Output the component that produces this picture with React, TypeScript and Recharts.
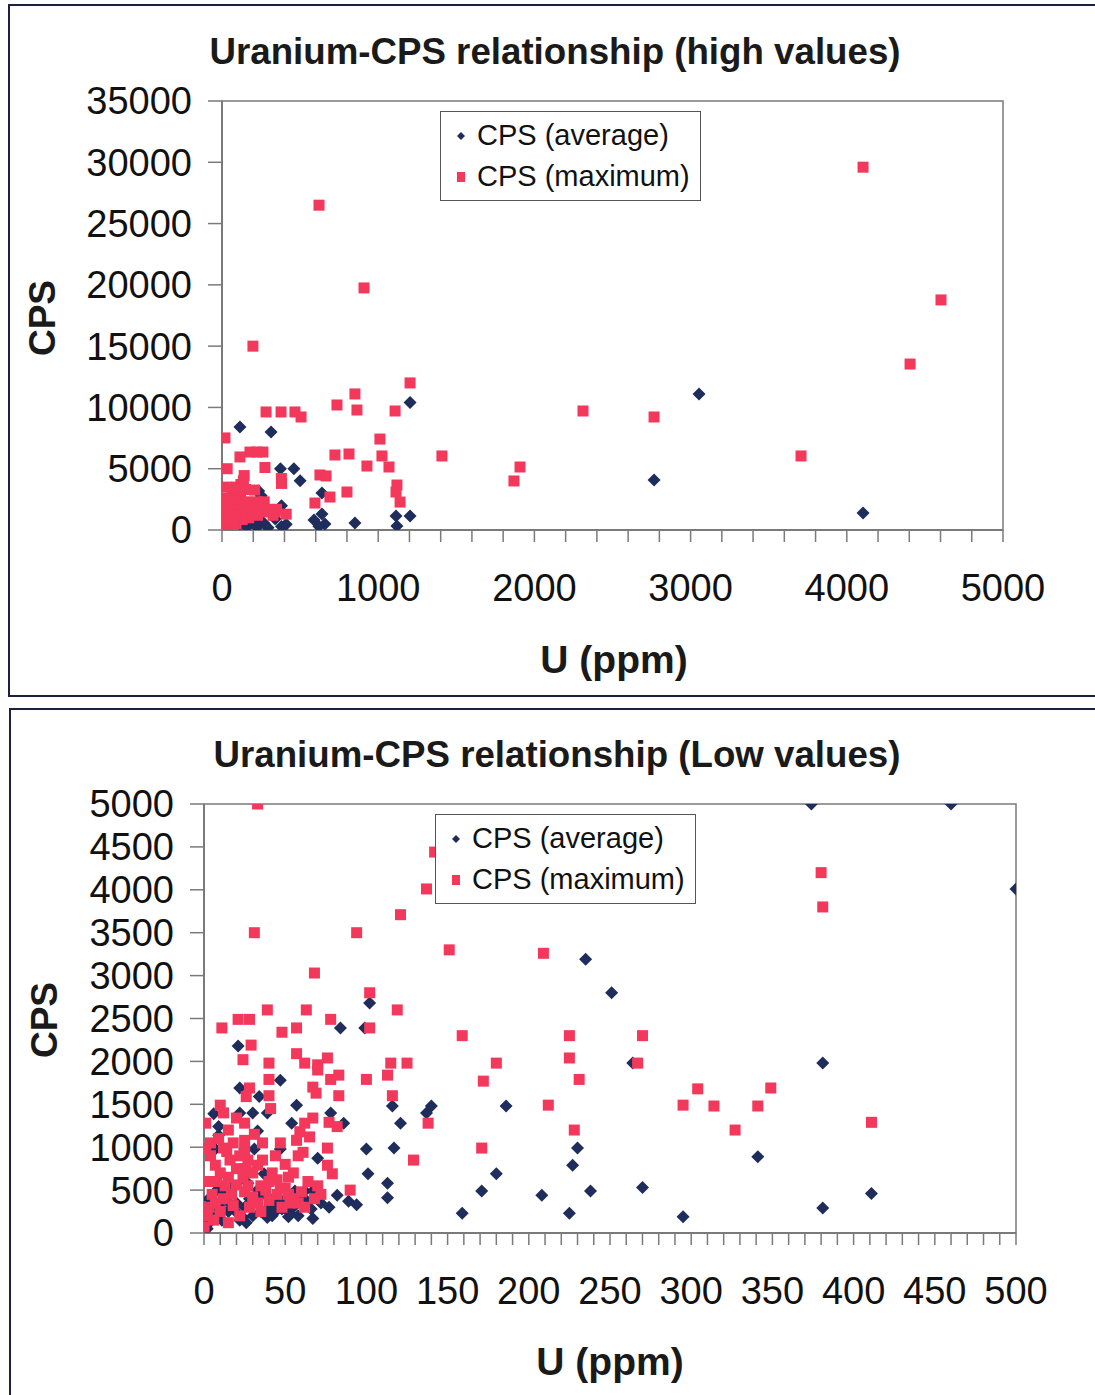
import React from 'react'
import {
  ScatterChart,
  Scatter,
  XAxis,
  YAxis,
  Legend,
  ReferenceArea,
} from 'recharts'

type Pt = [number, number]

// low-value readings (U ppm, CPS) - used for the low chart and the cluster of the high chart
const lowAverage: Pt[] = [
  [102, 2680], [84, 2390], [99, 2390], [21, 2180], [47, 1780], [22, 1690], [34, 1590], [57, 1490],
  [6, 1390], [22, 1400], [30, 1400], [39, 1400], [78, 1400], [54, 1280], [86, 1280], [9, 1240],
  [9, 1140], [33, 1190], [7, 980], [25, 980], [31, 980], [47, 980], [70, 870], [100, 980],
  [101, 690], [37, 690], [27, 580], [56, 490], [62, 490], [67, 490], [59, 380], [63, 380],
  [82, 440], [89, 370], [94, 330], [113, 580], [113, 410], [67, 170], [52, 190], [235, 3190],
  [251, 2800], [264, 1980], [116, 1480], [140, 1480], [137, 1400], [186, 1480], [121, 1280],
  [117, 990], [230, 990], [227, 790], [180, 690], [171, 490], [208, 440], [238, 490], [270, 530],
  [159, 230], [225, 230], [295, 190], [374, 5000], [460, 5000], [500, 4010], [381, 1980],
  [341, 890], [411, 460], [381, 290],
  [2, 50], [5, 200], [10, 300], [15, 250], [20, 350], [25, 300], [30, 200], [35, 250], [40, 300],
  [45, 350], [12, 450], [8, 500], [18, 550], [28, 400], [38, 450], [42, 200], [48, 280], [3, 400],
  [22, 150], [33, 500], [50, 400], [55, 300],
  [6, 320], [14, 380], [19, 260], [24, 180], [29, 360], [34, 420], [39, 180], [44, 250], [53, 230],
  [58, 200], [61, 320], [66, 280], [72, 350], [77, 300], [4, 130], [11, 150], [26, 120],
]

const lowMaximum: Pt[] = [
  [33, 5000], [142, 4440], [137, 4010], [121, 3710], [31, 3500], [94, 3500], [151, 3300],
  [209, 3260], [68, 3030], [380, 4200], [381, 3800], [39, 2600], [63, 2600], [119, 2600],
  [102, 2800], [102, 2390], [11, 2390], [21, 2490], [28, 2490], [78, 2490], [48, 2340], [57, 2390],
  [159, 2300], [225, 2300], [270, 2300], [29, 2190], [24, 2020], [40, 1980], [57, 2090], [62, 1980],
  [70, 1960], [76, 2040], [70, 1900], [83, 1840], [78, 1790], [40, 1790], [100, 1790], [113, 1840],
  [115, 1980], [125, 1980], [180, 1980], [225, 2040], [267, 1980], [172, 1770], [231, 1790],
  [28, 1690], [26, 1590], [40, 1600], [67, 1700], [69, 1630], [83, 1600], [116, 1600], [304, 1680],
  [349, 1690], [212, 1490], [295, 1490], [314, 1480], [341, 1480], [327, 1200], [228, 1200],
  [411, 1290], [138, 1280], [171, 990], [129, 850], [90, 500], [10, 1490], [12, 1400], [41, 1450],
  [20, 1340], [67, 1340], [62, 1280], [77, 1290], [82, 1240], [1, 1280], [15, 1200], [25, 1280],
  [25, 1080], [25, 970], [59, 1180], [57, 1080], [65, 1120], [47, 1050], [1, 990], [12, 990],
  [61, 940], [76, 990], [27, 850], [7, 790], [33, 790], [76, 790], [79, 690], [0, 70],
  [8, 600], [15, 650], [20, 560], [5, 450], [12, 400], [25, 480], [30, 420], [35, 550], [40, 380],
  [45, 450], [50, 520], [55, 400], [3, 300], [10, 250], [18, 320], [22, 200], [28, 300], [6, 150],
  [2, 200], [15, 120], [35, 250], [48, 300], [53, 350], [40, 600], [30, 700], [20, 750], [10, 700],
  [52, 650], [60, 480], [45, 620],
  [4, 900], [9, 1100], [14, 950], [18, 1050], [22, 900], [31, 1150], [36, 1050], [44, 900],
  [50, 800], [55, 700], [58, 900], [64, 600], [70, 550], [3, 600], [7, 350], [13, 550], [17, 450],
  [24, 650], [27, 550], [33, 350], [38, 500], [42, 700], [47, 520], [52, 450], [58, 350], [62, 300],
  [68, 400], [72, 450], [16, 850], [26, 750], [36, 850], [4, 1050],
]

// readings only visible on the high-value chart
const highAverage: Pt[] = [
  [3054, 11100], [1204, 10400], [115, 8400], [314, 8000], [2766, 4080], [4104, 1390],
  [640, 3020], [1114, 1140], [1204, 1140], [1120, 330], [851, 570], [589, 820], [640, 1310],
  [659, 490], [620, 300],
]

const highMaximum: Pt[] = [
  [621, 26500], [909, 19750], [198, 15000], [4104, 29600], [4603, 18770], [4405, 13540],
  [1204, 12000], [851, 11100], [864, 9790], [736, 10200], [1108, 9710], [282, 9630], [378, 9630],
  [467, 9630], [506, 9220], [2311, 9710], [2766, 9220], [19, 7510], [1011, 7420], [1408, 6040],
  [723, 6120], [813, 6200], [3707, 6040], [1024, 6040], [1069, 5140], [928, 5220], [1908, 5140],
  [1869, 4000], [627, 4490], [666, 4410], [800, 3100], [691, 2690], [595, 2200], [1120, 3670],
  [1114, 3100], [1140, 2280], [115, 5960], [179, 6360], [224, 6360], [262, 6360], [275, 5100],
]

const highXLabels = [0, 1000, 2000, 3000, 4000, 5000]
const highYTicks = [0, 5000, 10000, 15000, 20000, 25000, 30000, 35000]
const lowXLabels = [0, 50, 100, 150, 200, 250, 300, 350, 400, 450, 500]
const lowYTicks = [0, 500, 1000, 1500, 2000, 2500, 3000, 3500, 4000, 4500, 5000]

const seriesNames = ['CPS (average)', 'CPS (maximum)']

const BLUE = '#1f2d5c'
const RED = '#f3385c'
const AXIS = '#7a7a7a'
const FONT = '"Liberation Sans", Arial, sans-serif'

const toObj = (arr: Pt[]) => arr.map(([x, y]) => ({ x, y }))

const Diamond = (props: any) => {
  const { cx, cy } = props
  if (cx == null || cy == null) return null
  const r = 6.5
  return (
    <polygon
      points={`${cx},${cy - r} ${cx + r},${cy} ${cx},${cy + r} ${cx - r},${cy}`}
      fill={BLUE}
    />
  )
}

const Square = (props: any) => {
  const { cx, cy } = props
  if (cx == null || cy == null) return null
  return <rect x={cx - 5.5} y={cy - 5.5} width={11} height={11} fill={RED} />
}

const LegendBox = () => (
  <div
    style={{
      border: '1.5px solid #555',
      background: '#fff',
      padding: '3px 10px 3px 12px',
      fontFamily: FONT,
      fontSize: 29,
      color: '#111',
      lineHeight: '41px',
    }}
  >
    <div style={{ display: 'flex', alignItems: 'center' }}>
      <svg width={24} height={14}>
        <polygon points="8,3 12,7 8,11 4,7" fill={BLUE} />
      </svg>
      <span>{seriesNames[0]}</span>
    </div>
    <div style={{ display: 'flex', alignItems: 'center' }}>
      <svg width={24} height={14}>
        <rect x={4} y={2} width={8} height={10} fill={RED} />
      </svg>
      <span>{seriesNames[1]}</span>
    </div>
  </div>
)

const tickStyle = { fontSize: 38, fill: '#111', fontFamily: FONT }

const titleStyle: React.CSSProperties = {
  position: 'absolute',
  fontFamily: FONT,
  fontWeight: 'bold',
  color: '#1a1a1a',
  whiteSpace: 'nowrap',
  textAlign: 'center',
}

interface PanelProps {
  average: Pt[]
  maximum: Pt[]
  xMax: number
  yMax: number
  minorStep: number
  xLabels: number[]
  yTicks: number[]
  marginTop: number
  marginRight: number
  yAxisWidth: number
  height: number
  legendLeft: number
  legendTop: number
}

const Panel: React.FC<PanelProps> = (p) => {
  const minorTicks = Array.from({ length: p.xMax / p.minorStep + 1 }, (_, i) => i * p.minorStep)
  return (
    <ScatterChart
      width={1095}
      height={p.height}
      margin={{ top: p.marginTop, right: p.marginRight, bottom: 0, left: 0 }}
    >
      <XAxis
        type="number"
        dataKey="x"
        domain={[0, p.xMax]}
        ticks={minorTicks}
        interval={0}
        allowDataOverflow
        tickFormatter={(v: number) => (p.xLabels.includes(v) ? String(v) : '')}
        tick={tickStyle}
        tickSize={12}
        tickMargin={32}
        height={p.height - p.marginTop - 429}
        axisLine={{ stroke: AXIS, strokeWidth: 2 }}
        tickLine={{ stroke: AXIS, strokeWidth: 1.5 }}
      />
      <YAxis
        type="number"
        dataKey="y"
        domain={[0, p.yMax]}
        ticks={p.yTicks}
        interval={0}
        allowDataOverflow
        tick={tickStyle}
        tickSize={14}
        tickMargin={16}
        width={p.yAxisWidth}
        axisLine={{ stroke: AXIS, strokeWidth: 2 }}
        tickLine={{ stroke: AXIS, strokeWidth: 1.5 }}
      />
      <ReferenceArea
        x1={0}
        x2={p.xMax}
        y1={0}
        y2={p.yMax}
        fill="none"
        stroke={AXIS}
        strokeWidth={1.5}
      />
      <Legend
        layout="vertical"
        align="center"
        verticalAlign="middle"
        content={() => <LegendBox />}
        wrapperStyle={{ left: p.legendLeft, top: p.legendTop, width: 'auto' }}
      />
      <Scatter
        name={seriesNames[0]}
        data={toObj(p.average)}
        shape={Diamond}
        isAnimationActive={false}
      />
      <Scatter
        name={seriesNames[1]}
        data={toObj(p.maximum)}
        shape={Square}
        isAnimationActive={false}
      />
    </ScatterChart>
  )
}

export default function App() {
  const inLow = ([x, y]: Pt) => x <= 500 && y <= 5000
  const highAvgAll = [...lowAverage.filter(inLow), ...highAverage]
  const highMaxAll = [...lowMaximum.filter(inLow), ...highMaximum]

  return (
    <div style={{ position: 'absolute', left: 0, top: 0, width: 1095, height: 1395, overflow: 'hidden', background: '#fff' }}>
      <div style={{ position: 'absolute', left: 8, top: 4, width: 1100, height: 689, border: '2px solid #1c2140' }} />
      <div style={{ position: 'absolute', left: 9, top: 708, width: 1100, height: 720, border: '2px solid #1c2140' }} />

      <div style={{ position: 'absolute', left: 0, top: 0 }}>
        <Panel
          average={highAvgAll}
          maximum={highMaxAll}
          xMax={5000}
          yMax={35000}
          minorStep={200}
          xLabels={highXLabels}
          yTicks={highYTicks}
          marginTop={101}
          marginRight={92}
          yAxisWidth={222}
          height={700}
          legendLeft={440}
          legendTop={111}
        />
      </div>
      <div style={{ position: 'absolute', left: 0, top: 700 }}>
        <Panel
          average={lowAverage}
          maximum={lowMaximum}
          xMax={500}
          yMax={5000}
          minorStep={10}
          xLabels={lowXLabels}
          yTicks={lowYTicks}
          marginTop={104}
          marginRight={79}
          yAxisWidth={204}
          height={695}
          legendLeft={435}
          legendTop={114}
        />
      </div>

      <div style={{ ...titleStyle, left: 0, width: 1110, top: 32, fontSize: 36.7, lineHeight: '40px' }}>
        Uranium-CPS relationship (high values)
      </div>
      <div style={{ ...titleStyle, left: 0, width: 1114, top: 735, fontSize: 36.7, lineHeight: '40px' }}>
        Uranium-CPS relationship (Low values)
      </div>

      <div style={{ ...titleStyle, left: 414, width: 400, top: 640, fontSize: 39, lineHeight: '40px' }}>U (ppm)</div>
      <div style={{ ...titleStyle, left: 410, width: 400, top: 1342, fontSize: 39, lineHeight: '40px' }}>U (ppm)</div>

      <div style={{ ...titleStyle, left: -7, width: 100, top: 298, fontSize: 37, lineHeight: '40px', transform: 'rotate(-90deg)' }}>CPS</div>
      <div style={{ ...titleStyle, left: -5, width: 100, top: 1000, fontSize: 37, lineHeight: '40px', transform: 'rotate(-90deg)' }}>CPS</div>
    </div>
  )
}
